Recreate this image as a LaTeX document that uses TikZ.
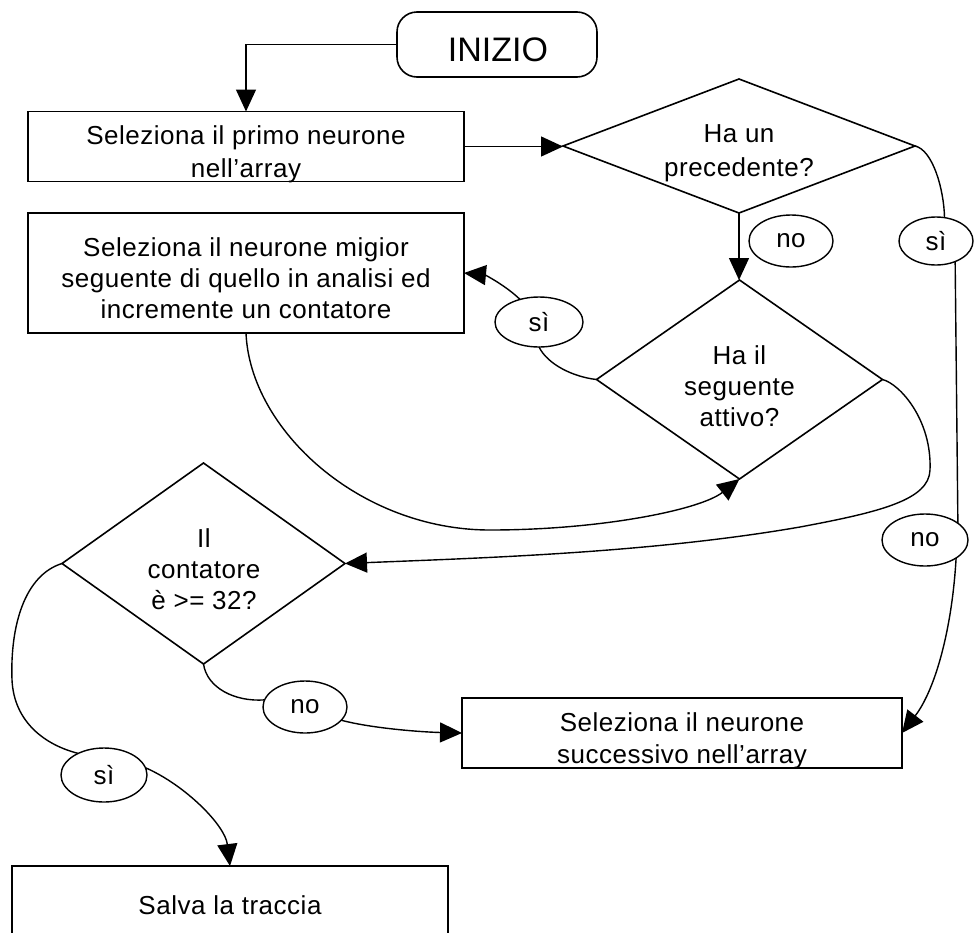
\documentclass[tikz,border=0pt]{standalone}
\usepackage{fontspec}
\setmainfont{Liberation Sans}
\newfontfamily\spacedsans[LetterSpace=2]{Liberation Sans}
\usetikzlibrary{shapes.geometric,arrows.meta}

\begin{document}
\begin{tikzpicture}[x=1pt,y=-1pt,
  shapeline/.style={draw=black,line width=1.6pt},
  procbox/.style={shapeline,rectangle,inner sep=0pt,outer sep=0pt},
  decision/.style={shapeline,diamond,inner sep=0pt,outer sep=0pt},
  answer/.style={draw=black,line width=1.4pt,ellipse,inner sep=0pt,outer sep=0pt,
    font=\spacedsans\fontsize{26}{30}\selectfont},
  caption/.style={align=center,inner sep=0pt,font=\spacedsans\fontsize{26}{32}\selectfont},
  link/.style={line width=1.4pt},
  flow/.style={link,-{Triangle[length=22pt,width=20pt]}},
]
\useasboundingbox (0,0) rectangle (976,932);
\clip (0,0) rectangle (976,932);

% start terminal
\node[procbox,rounded corners=20pt,minimum width=200pt,minimum height=65pt] (start) at (497,44.5) {};
\node[inner sep=0pt,font=\fontsize{34}{40}\selectfont] (startlbl) at (498,49.5) {INIZIO};

% process boxes
\node[procbox,minimum width=436pt,minimum height=70pt] (box1) at (246,146.5) {};
\node[caption,font=\spacedsans\fontsize{26}{33}\selectfont] (box1lbl) at (246,154) {Seleziona il primo neurone\\nell’array};

\node[procbox,minimum width=436pt,minimum height=120pt] (box2) at (246,273) {};
\node[caption,font=\spacedsans\fontsize{26}{31}\selectfont] (box2lbl) at (246,278)
  {Seleziona il neurone migior\\seguente di quello in analisi ed\\incremente un contatore};

\node[procbox,minimum width=440pt,minimum height=70pt] (box3) at (682,733) {};
\node[caption] (box3lbl) at (682,741) {Seleziona il neurone\\successivo nell’array};

\node[procbox,minimum width=436pt,minimum height=100pt] (box4) at (230,916) {};
\node[caption] (box4lbl) at (230,905) {Salva la traccia};

% decisions
\node[decision,minimum width=352pt,minimum height=134pt] (d1) at (739,146) {};
\node[caption,font=\spacedsans\fontsize{26}{34}\selectfont] (d1lbl) at (739,153) {Ha un\\precedente?};

\node[decision,minimum width=286pt,minimum height=199pt] (d2) at (739.5,379.5) {};
\node[caption,font=\spacedsans\fontsize{26}{31}\selectfont] (d2lbl) at (739.5,386) {Ha il\\seguente\\attivo?};

\node[decision,minimum width=283pt,minimum height=201pt] (d3) at (203.5,563.5) {};
\node[caption,font=\spacedsans\fontsize{26}{31}\selectfont] (d3lbl) at (204,569) {Il\\contatore\\è >= 32?};

% answer labels
\node[answer,minimum width=84pt,minimum height=52pt] (a1) at (791,241) {no};
\node[answer,minimum width=74pt,minimum height=48pt] (a2) at (936,241) {sì};
\node[answer,minimum width=88pt,minimum height=50pt] (a3) at (539,322) {sì};
\node[answer,minimum width=86pt,minimum height=52pt] (a4) at (925,540) {no};
\node[answer,minimum width=84pt,minimum height=52pt] (a5) at (305,707) {no};
\node[answer,minimum width=86pt,minimum height=54pt] (a6) at (104,775) {sì};

% connectors
\draw[flow] (start.west) -| (box1.north);
\draw[flow] (box1.east) -- (d1.west |- box1.east);
\draw[flow] (d1.south) -- (d1.south |- d2.north);

\draw[link] (d1.east) .. controls (933,150) and (944,190) .. (a2.70);
\draw[link] (a2.-47) -- (a4.27);
\draw[flow] (a4.-30) .. controls (952,630) and (935,690) .. (box3.east);

\draw[link] (d2.west) .. controls (574,377) and (548,365) .. (a3.south);
\draw[flow] (a3.130) .. controls (505,285) and (485,275) .. (box2.east);

\draw[flow] (box2.south) .. controls (250,430) and (360,530) .. (490,530)
  .. controls (600,530) and (700,510) .. (d2.south);

\draw[flow] (d2.east) .. controls (900,384) and (932,420) .. (930,470)
  .. controls (929,500) and (880,512) .. (800,527)
  .. controls (650,553) and (480,558) .. (d3.east);

\draw[link] (d3.south) .. controls (207,688) and (235,702) .. (a5.170);
\draw[flow] (a5.-20) .. controls (370,728) and (420,732) .. (box3.west);

\draw[link] (d3.west) .. controls (25,575) and (10,625) .. (12,680)
  .. controls (14,722) and (45,745) .. (a6.140);
\draw[flow] (a6.10) .. controls (185,785) and (225,825) .. (box4.north);
\end{tikzpicture}
\end{document}
